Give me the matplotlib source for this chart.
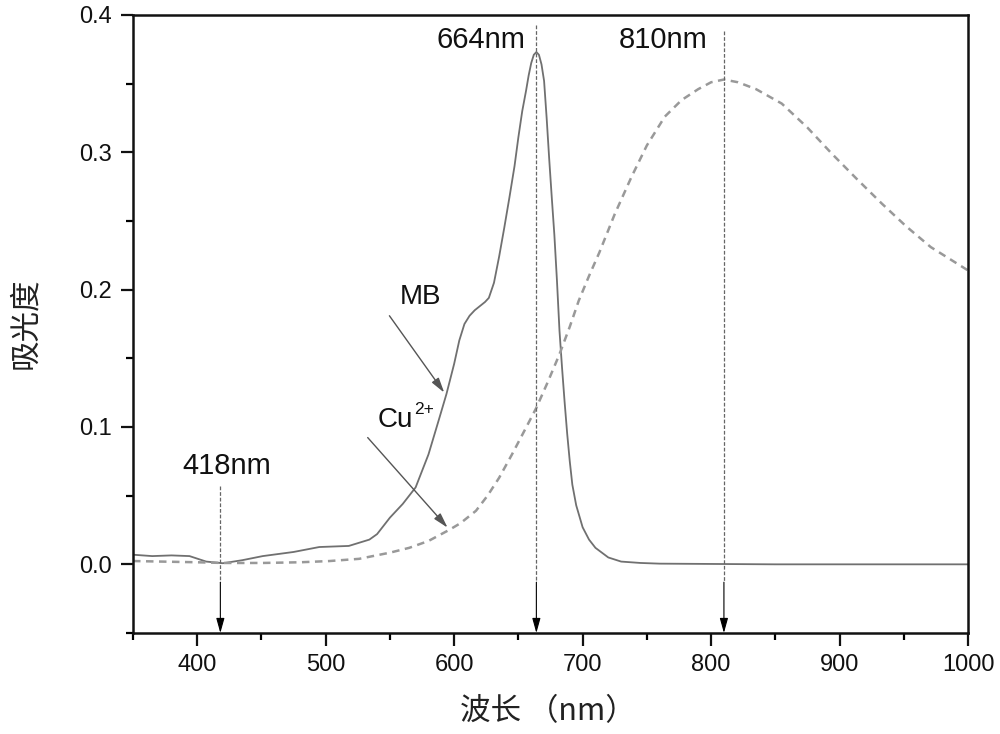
import matplotlib
matplotlib.use("Agg")
import matplotlib.pyplot as plt
from matplotlib.ticker import MultipleLocator

plt.rcParams['font.family'] = ['Liberation Sans', 'DejaVu Sans']

# MB spectrum (solid)
wl_mb = [350, 365, 380, 394, 407, 420, 435, 451, 475, 495, 518, 534, 540, 550, 560, 570,
         580, 588, 594, 600, 604, 608, 612, 616, 620, 624, 627, 631, 635, 639, 643, 647,
         650, 653, 656, 658, 660, 662, 664, 666, 668, 670, 672, 674, 676, 678, 680, 682,
         684, 686, 688, 690, 692, 695, 700, 705, 710, 720, 730, 745, 760, 850, 1000]
abs_mb = [0.007, 0.006, 0.0065, 0.006, 0.002, 0.0008, 0.003, 0.006, 0.009, 0.0126, 0.0134,
          0.018, 0.022, 0.034, 0.044, 0.056, 0.08, 0.105, 0.124, 0.146, 0.163, 0.175, 0.181,
          0.185, 0.188, 0.191, 0.194, 0.205, 0.224, 0.245, 0.267, 0.29, 0.311, 0.33, 0.345,
          0.356, 0.365, 0.371, 0.373, 0.371, 0.364, 0.352, 0.325, 0.295, 0.267, 0.24, 0.207,
          0.170, 0.143, 0.118, 0.095, 0.075, 0.058, 0.043, 0.027, 0.018, 0.012, 0.005, 0.002,
          0.001, 0.0005, 0.0, 0.0]

# Cu2+ spectrum (dashed)
wl_cu = [350, 400, 420, 451, 480, 503, 526, 550, 565, 580, 596, 605, 617, 626, 635, 645,
         656, 664, 673, 682, 690, 697, 705, 713, 725, 738, 750, 764, 777, 790, 800, 810,
         821, 835, 855, 875, 894, 913, 933, 952, 971, 1000]
abs_cu = [0.0024, 0.0015, 0.001, 0.001, 0.0015, 0.0024, 0.004, 0.0085, 0.012, 0.017, 0.025,
          0.03, 0.039, 0.05, 0.063, 0.08, 0.0996, 0.114, 0.133, 0.153, 0.173, 0.192, 0.21,
          0.227, 0.255, 0.282, 0.305, 0.326, 0.338, 0.346, 0.351, 0.353, 0.351, 0.346, 0.3355,
          0.318, 0.299, 0.281, 0.2626, 0.246, 0.231, 0.214]

# peak markers: wavelength, top of guide line, label text, label x, label y
peak_wl = [418, 664, 810]
peak_top = [0.057, 0.393, 0.388]
peak_labels = ['418nm', '664nm', '810nm']
peak_label_x = [423, 621, 763]
peak_label_y = [0.0717, 0.382, 0.382]

x_ticks = [400, 500, 600, 700, 800, 900, 1000]
y_ticks = [0.0, 0.1, 0.2, 0.3, 0.4]

fig = plt.figure(figsize=(10, 7.34), dpi=100)
ax = fig.add_axes([0.133, 0.1376, 0.835, 0.842])

ax.plot(wl_mb, abs_mb, color='#707070', lw=1.3, solid_joinstyle='round')
ax.plot(wl_cu, abs_cu, color='#999999', lw=1.8, linestyle=(0, (3, 2.2)))

arrow_style = '-|>,head_width=0.25,head_length=0.9'
for wl, top, lab, lx, ly in zip(peak_wl, peak_top, peak_labels, peak_label_x, peak_label_y):
    ax.plot([wl, wl], [top, -0.013], color='#666666', lw=0.9, linestyle=(0, (3, 1.5)))
    ax.annotate('', xy=(wl, -0.05), xytext=(wl, -0.013),
                arrowprops=dict(arrowstyle=arrow_style, color='black', lw=0.8,
                                shrinkA=0, shrinkB=0))
    ax.text(lx, ly, lab, fontsize=21, ha='center', va='center', color='#111111')

# curve labels with arrows
ax.annotate('', xy=(592.3, 0.125), xytext=(549.6, 0.181),
            arrowprops=dict(arrowstyle=arrow_style, color='#555555', lw=1.0,
                            shrinkA=0, shrinkB=0))
ax.annotate('', xy=(594.9, 0.0267), xytext=(532.7, 0.0923),
            arrowprops=dict(arrowstyle=arrow_style, color='#555555', lw=1.0,
                            shrinkA=0, shrinkB=0))
ax.text(574, 0.1945, 'MB', fontsize=20, ha='center', va='center', color='#111111')
ax.text(540.5, 0.105, 'Cu', fontsize=20, ha='left', va='center', color='#111111')
ax.annotate('2+', xy=(540.5, 0.105), xytext=(26, 8), textcoords='offset points',
            fontsize=12.5, ha='left', va='center', color='#111111')

ax.set_xlim(350, 1000)
ax.set_ylim(-0.05, 0.4)
ax.set_xticks(x_ticks)
ax.set_yticks(y_ticks)
ax.set_yticklabels([f'{v:.1f}' for v in y_ticks])
ax.xaxis.set_minor_locator(MultipleLocator(50))
ax.yaxis.set_minor_locator(MultipleLocator(0.05))
ax.tick_params(which='major', direction='out', length=9, width=1.6, labelsize=17,
               pad=6, colors='#111111', top=False, right=False)
ax.tick_params(which='minor', direction='out', length=5, width=1.6, top=False, right=False)
for s in ax.spines.values():
    s.set_linewidth(1.8)
    s.set_color('#111111')

cjk = ['Noto Sans CJK SC', 'DejaVu Sans']
fig.text(0.548, 1 - 712 / 734, '波长 （nm）', fontsize=22, ha='center', va='center',
         family=cjk, color='#222222')
fig.text(0.026, 1 - 323 / 734, '吸光度', fontsize=22, ha='center', va='center',
         rotation=90, family=cjk, color='#222222')

fig.savefig('out.png', dpi=100, facecolor='white')
